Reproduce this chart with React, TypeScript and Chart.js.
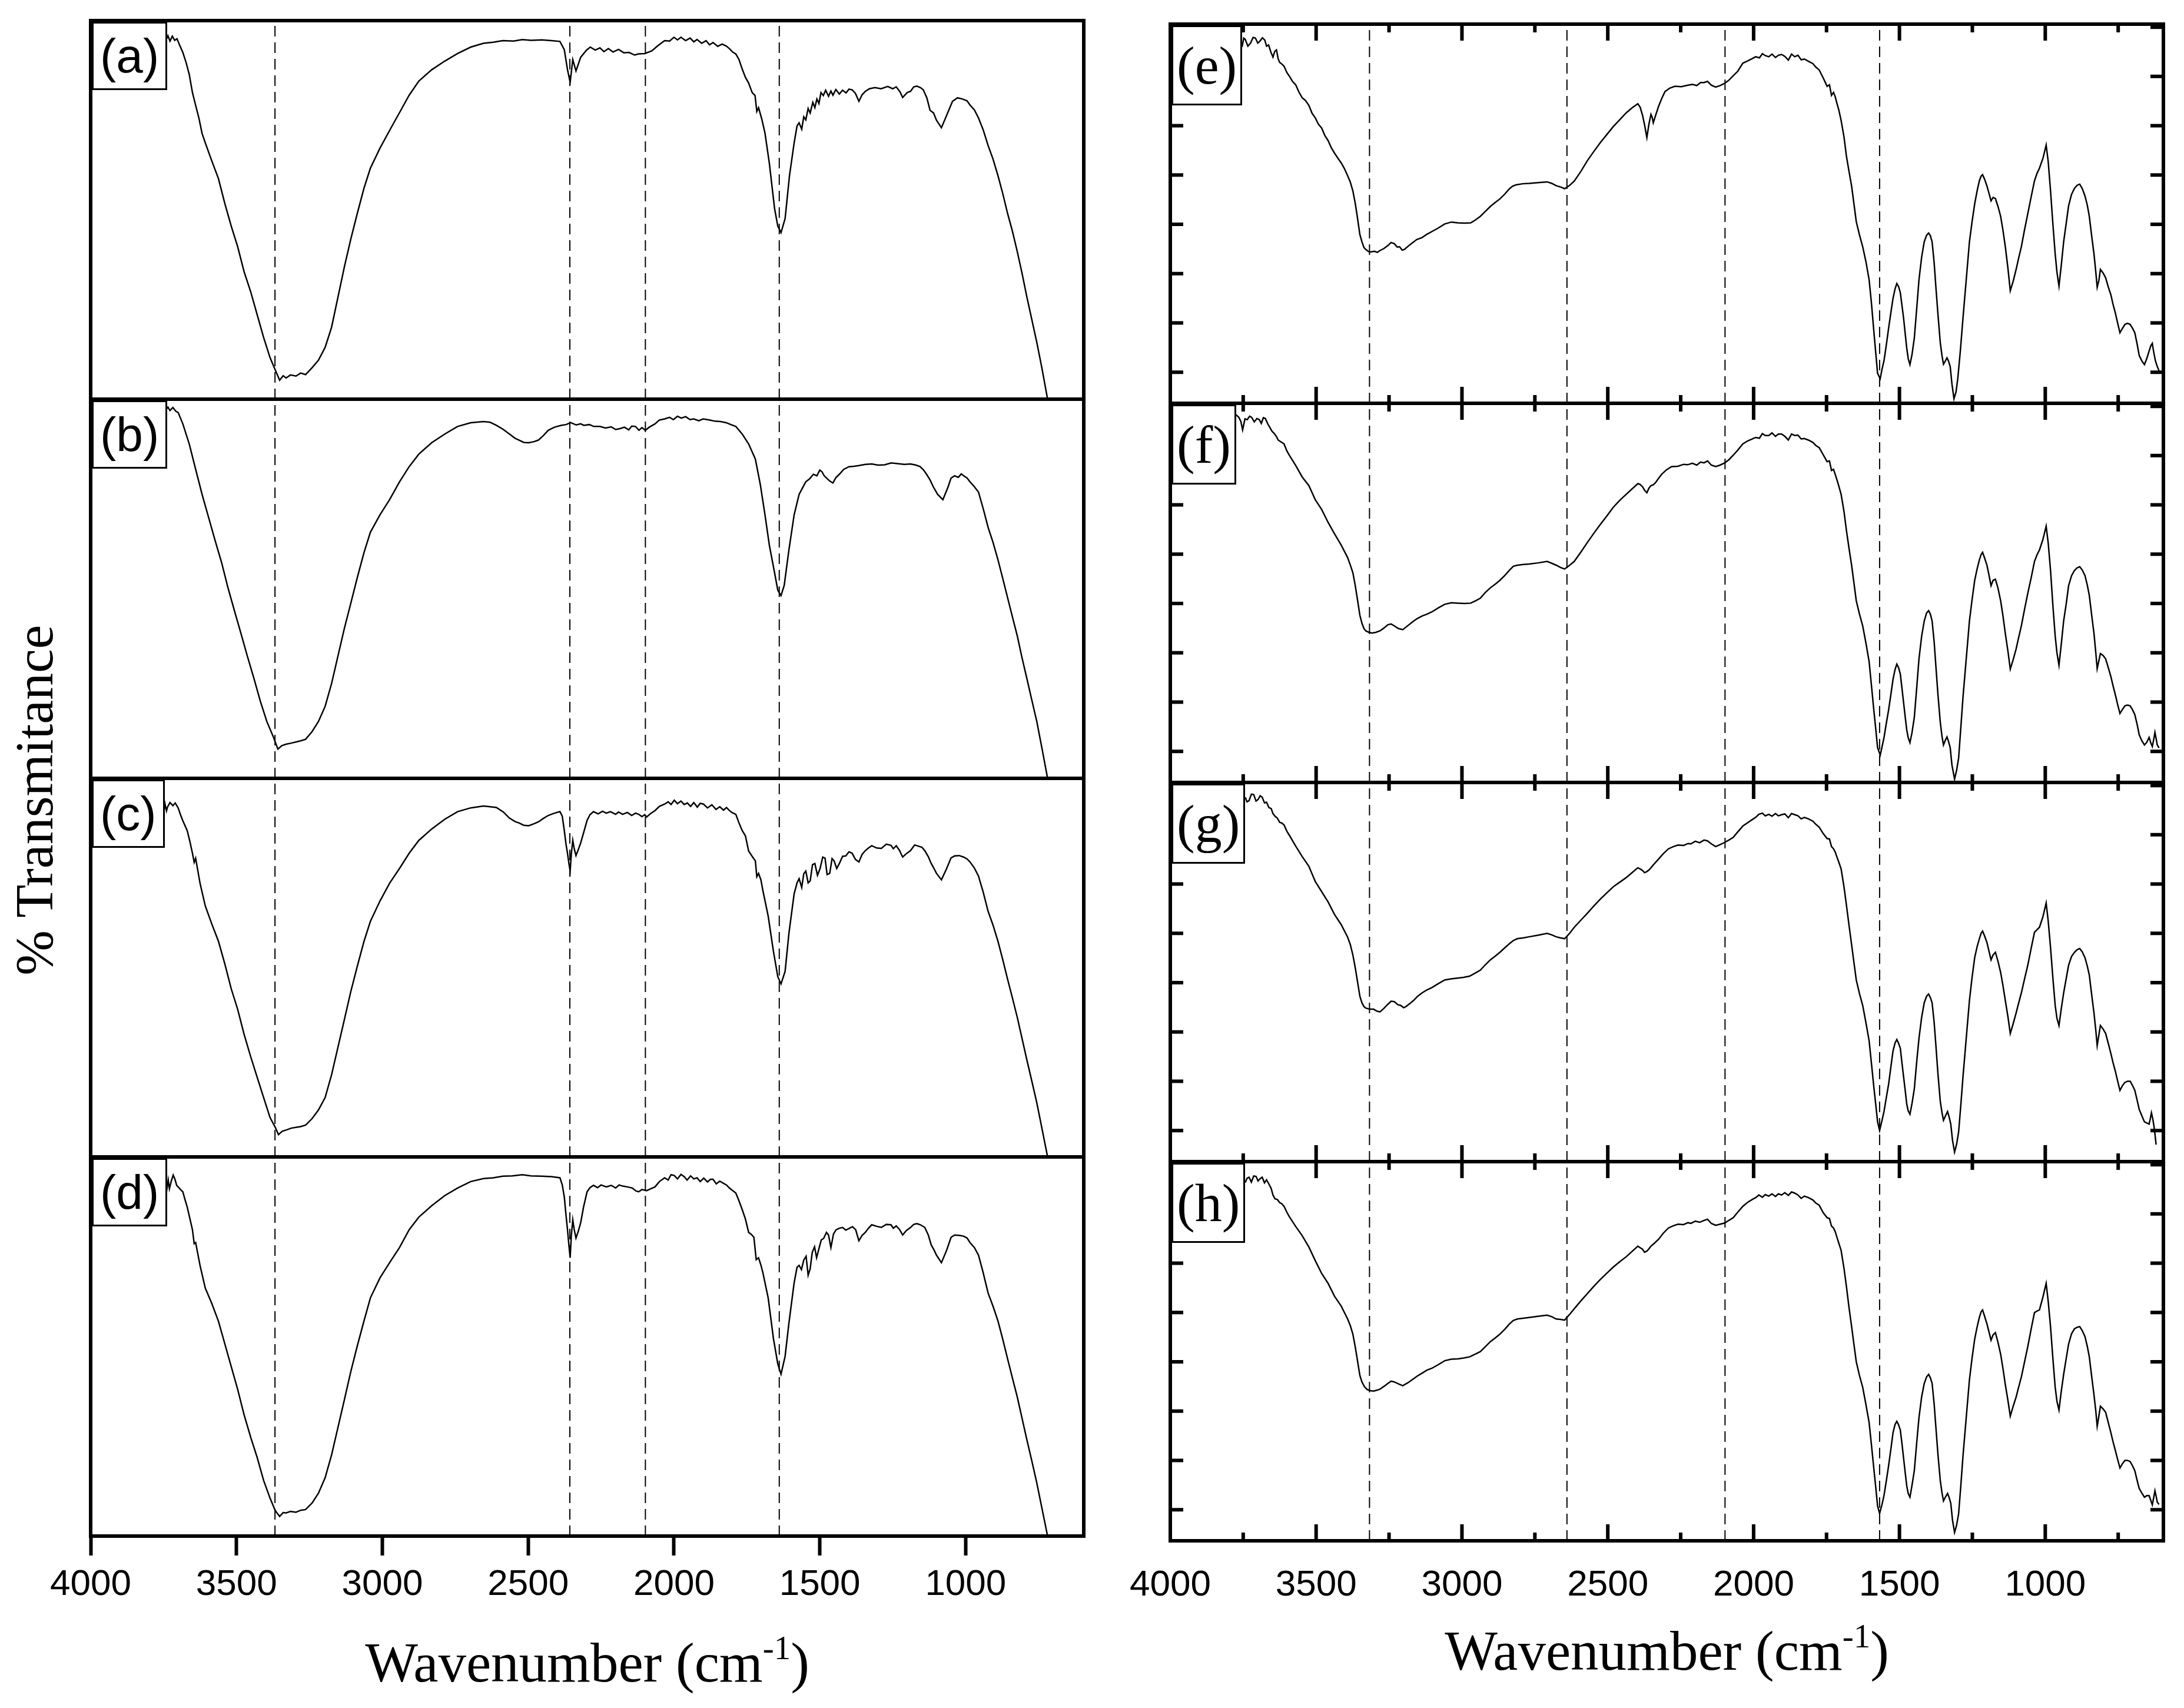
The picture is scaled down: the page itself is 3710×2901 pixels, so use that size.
import React, { useEffect, useRef } from "react";
import Chart from "chart.js/auto";

// wavenumber axis (cm-1), drawn high -> low
const waveMax = 4000;
const waveMin = 595;
const waveTicks = [4000, 3500, 3000, 2500, 2000, 1500, 1000];
const waveMinor = [3750, 3250, 2750, 2250, 1750, 1250, 750];
// inner y tick levels on the right-hand panels (% of panel height)
const levelTicks = [8.2, 21.2, 34.2, 47.2, 60.2, 73.2, 86.2, 99.2];

// dashed reference bands
const leftPeaks = [3368, 2357, 2098, 1639];
const rightPeaks = [3317, 2640, 2098, 1568];

const leftTags = ["(a)", "(b)", "(c)", "(d)"];
const rightTags = ["(e)", "(f)", "(g)", "(h)"];

// [wavenumber, transmittance]
const specA = [[3742,94.8],[3735,96],[3728,94.6],[3720,95.9],[3712,94.8],[3704,95.2],[3696,93.7],[3684,91.6],[3673,89],[3662,85.8],[3651,81],[3640,77.6],[3629,74.3],[3618,70.2],[3607,67.7],[3585,63],[3562,58.3],[3540,51.7],[3518,45.7],[3496,40.3],[3474,33.7],[3451,28.3],[3429,22.3],[3407,16.3],[3385,11],[3367,7.7],[3352,5],[3340,6.2],[3330,5.6],[3315,6.4],[3296,6.1],[3280,6.9],[3263,6.5],[3241,8.3],[3219,10.3],[3196,13.7],[3174,19],[3152,27],[3130,35],[3108,42.3],[3086,49],[3063,55.7],[3041,61],[3008,66.3],[2975,71],[2941,75.7],[2908,80.3],[2875,84],[2831,87],[2786,89.3],[2742,91.3],[2697,93],[2653,94],[2620,94.3],[2587,94.7],[2550,94.6],[2520,95],[2490,94.8],[2453,94.9],[2420,94.7],[2391,94.5],[2376,92.3],[2365,87],[2356,83.7],[2347,89.7],[2336,86.7],[2320,90.3],[2300,92.2],[2287,93],[2270,92.2],[2254,92.8],[2240,91.8],[2225,92.6],[2209,91.7],[2190,92.4],[2172,91.5],[2154,91.6],[2135,90.9],[2121,91.2],[2100,91.3],[2076,92],[2055,93.4],[2032,94.7],[2015,94.6],[2000,95.6],[1988,94.9],[1976,95.6],[1960,94.7],[1945,95.4],[1932,94.4],[1921,95],[1905,94],[1890,94.7],[1878,93.6],[1866,94.2],[1850,93.2],[1835,93.8],[1821,93.3],[1810,92.6],[1799,91.7],[1788,91.2],[1777,89.7],[1766,87.2],[1755,85],[1744,83.5],[1732,81],[1722,80.2],[1716,76],[1710,77],[1699,74],[1688,70.3],[1673,62.3],[1655,50.3],[1644,45.7],[1633,44],[1619,47.7],[1604,59],[1588,67.7],[1578,72.2],[1571,73],[1562,71.3],[1555,74.6],[1548,73.8],[1540,76.8],[1533,75.6],[1524,78.4],[1517,77],[1510,79.3],[1503,78.1],[1496,81],[1488,80.2],[1480,81.6],[1470,80],[1462,81.4],[1455,80.3],[1445,81.8],[1433,80.6],[1422,81.6],[1410,80.9],[1400,81.9],[1389,81.7],[1378,80.8],[1366,78.7],[1355,80.4],[1344,81.3],[1330,82],[1311,82.3],[1290,82],[1267,82.6],[1250,82],[1238,82.5],[1225,81.2],[1216,79.7],[1200,81],[1189,81.3],[1178,82.5],[1167,82.7],[1155,82.3],[1145,81.7],[1133,79.6],[1122,76.3],[1110,75.6],[1100,73.7],[1083,71.7],[1065,75],[1045,78.7],[1028,79.6],[1011,79.3],[995,78.8],[985,77.7],[970,76.4],[956,74.3],[940,71.2],[923,67],[906,63.4],[889,59],[873,54.4],[856,49],[840,44.5],[823,39],[807,33.4],[790,27],[773,21],[756,15],[738,8],[719,0],[700,-8]];

const specB = [[3742,97.2],[3735,97.9],[3728,97],[3718,97.8],[3708,96.8],[3700,96.5],[3684,93.5],[3662,88.2],[3640,81.5],[3618,74.9],[3596,68.9],[3574,62.9],[3551,56.9],[3529,50.2],[3507,44.2],[3485,38.3],[3463,32.3],[3440,26.3],[3418,20.3],[3396,15],[3374,11],[3358,7.7],[3345,8.6],[3330,9],[3312,9.3],[3296,9.6],[3280,9.9],[3263,10.3],[3241,12.3],[3219,15],[3196,19],[3174,25],[3152,32.3],[3130,39.6],[3108,46.2],[3086,52.9],[3063,59.5],[3041,64.9],[3008,69.5],[2975,73.5],[2941,78.2],[2908,82.2],[2875,85.5],[2831,88.5],[2786,90.8],[2742,92.8],[2697,93.8],[2653,94.1],[2630,93.9],[2609,93.1],[2585,92],[2564,90.8],[2545,89.7],[2531,89.2],[2515,88.6],[2498,88.5],[2480,88.8],[2465,89.2],[2448,90.4],[2431,91.8],[2410,92.6],[2387,93.1],[2370,93.3],[2354,93.8],[2335,93.2],[2320,93.5],[2309,93.1],[2290,93.3],[2275,92.8],[2254,92.8],[2235,92.4],[2215,92.7],[2200,92],[2187,92.2],[2170,92.6],[2155,91.9],[2145,92.9],[2132,92.8],[2120,91.8],[2110,92.5],[2098,91.8],[2085,92.6],[2065,93.5],[2050,94.5],[2032,94.8],[2015,95.2],[2002,94.6],[1988,95.5],[1975,95],[1960,95.4],[1945,94.6],[1932,94.8],[1915,94.3],[1900,94.8],[1877,94.5],[1860,94.2],[1840,94.1],[1821,93.8],[1805,93.3],[1788,92.8],[1766,90.8],[1744,88.2],[1721,84.2],[1704,77.5],[1688,69.5],[1673,61.5],[1655,54.2],[1644,49.6],[1633,48.2],[1622,50.9],[1606,60.2],[1588,69.5],[1571,74.9],[1560,76.5],[1548,78.2],[1535,79],[1522,80.2],[1510,79.8],[1500,81.3],[1493,80.9],[1485,79.8],[1477,79.2],[1466,78.4],[1455,77.9],[1445,79.3],[1433,80.2],[1418,81.5],[1400,82.2],[1383,82.3],[1366,82.5],[1344,82.8],[1322,82.9],[1300,82.6],[1278,82.7],[1255,83.2],[1233,83],[1210,82.8],[1189,82.9],[1170,82.6],[1156,82.2],[1145,81.4],[1134,80.2],[1122,78.7],[1111,76.9],[1096,74.9],[1078,73.5],[1060,76.9],[1050,79.2],[1038,79.8],[1025,79.4],[1015,80.3],[1007,79.8],[995,79.2],[985,78.2],[970,76.9],[956,75.5],[940,71.2],[923,66.2],[906,62.2],[889,57.6],[873,52.8],[856,47.6],[840,42.7],[823,37.6],[807,31.9],[790,26.3],[773,20.6],[756,15],[738,7.8],[719,0],[700,-8]];

const specC = [[3751,90.2],[3745,93.2],[3740,91.4],[3736,92.5],[3728,93.6],[3718,92.8],[3710,93.5],[3700,92.2],[3692,90.4],[3684,88.8],[3669,86.2],[3660,83.4],[3651,80.2],[3645,77.8],[3640,78.9],[3625,72.3],[3607,66.3],[3585,61.6],[3562,57],[3540,51],[3518,44.4],[3496,39],[3474,32.4],[3451,26.4],[3429,21],[3407,15.7],[3385,10.4],[3367,7.8],[3356,5.9],[3343,6.8],[3330,7.1],[3312,7.6],[3296,7.8],[3280,8],[3263,8.4],[3241,10.1],[3219,12.4],[3196,15.7],[3174,21.7],[3152,29],[3130,36.3],[3108,43.7],[3086,50.3],[3063,56.9],[3041,62.2],[3008,67.6],[2975,72.3],[2941,76.2],[2908,80.2],[2875,83.6],[2831,86.6],[2786,89.2],[2742,91.2],[2697,92.2],[2653,92.7],[2630,92.5],[2609,92.3],[2585,91.1],[2564,89.5],[2545,88.6],[2531,88.2],[2515,87.6],[2498,87.5],[2480,88],[2465,88.5],[2448,89.4],[2431,90.2],[2410,90.8],[2391,91.2],[2383,90],[2376,86.2],[2370,82.5],[2365,80.2],[2360,77.4],[2356,75.5],[2352,80],[2347,83.6],[2342,81.4],[2336,79.6],[2328,81.2],[2320,82.9],[2310,85.6],[2298,88.9],[2288,90.4],[2276,91.2],[2260,90.6],[2245,91.3],[2232,90.8],[2218,91.2],[2200,90.5],[2190,91.1],[2176,90.5],[2160,91],[2145,90.2],[2132,90.8],[2121,90.5],[2110,89.9],[2100,90.4],[2094,89.8],[2080,90.7],[2065,91.5],[2050,92.6],[2032,93.2],[2020,93.8],[2010,93.1],[1999,94.2],[1988,93.3],[1976,94],[1965,93.1],[1954,93.5],[1943,92.6],[1932,93.6],[1920,92.4],[1910,93.4],[1899,93.2],[1885,92.2],[1870,93],[1856,91.8],[1843,92.5],[1830,91.6],[1820,92.3],[1810,91.5],[1800,90.9],[1788,90.5],[1777,88.2],[1766,86.2],[1755,84.8],[1744,80.8],[1732,79.4],[1721,78.2],[1716,74],[1710,74.9],[1702,73.2],[1695,70.3],[1677,63.6],[1659,54.3],[1644,47.6],[1633,45.7],[1619,49],[1606,59],[1588,69.5],[1578,72.4],[1571,73.5],[1562,71.2],[1555,74.8],[1548,75.5],[1540,72.4],[1533,72.9],[1525,77.2],[1517,77.5],[1508,74.4],[1499,76.2],[1490,79.2],[1482,78.9],[1475,74.6],[1466,74.9],[1458,78.8],[1451,78.2],[1442,76.2],[1433,77.5],[1422,79.4],[1411,79.5],[1400,80.6],[1389,80.2],[1378,78.6],[1366,77.9],[1355,79.9],[1344,80.9],[1333,81.6],[1322,82.2],[1305,81.6],[1289,81.5],[1272,82.6],[1256,82.3],[1248,81.4],[1238,82.2],[1227,81],[1216,79.2],[1205,80],[1189,80.9],[1175,82.4],[1162,82.1],[1150,81.8],[1140,80.9],[1128,79.3],[1118,77.5],[1108,76.1],[1100,74.9],[1083,73.2],[1065,76.2],[1050,79],[1038,79.5],[1022,79.6],[1007,79.2],[995,78.7],[985,77.9],[970,76.3],[956,74.2],[940,70],[923,64.9],[906,61.2],[889,56.9],[873,52.2],[856,46.9],[840,42.1],[823,36.9],[807,31.4],[790,25.6],[773,20],[756,14.3],[738,7.4],[719,0],[700,-8]];

const specD = [[3740,90.8],[3734,93.9],[3730,91.6],[3724,93.5],[3717,95.2],[3711,94.1],[3705,92.5],[3700,92.1],[3692,91.4],[3684,90.8],[3676,88.6],[3669,86.8],[3660,83.8],[3651,80.8],[3645,77.1],[3640,77.4],[3625,71.4],[3607,65.4],[3585,61.4],[3562,56.7],[3540,50.7],[3518,44.7],[3496,38.7],[3474,32],[3451,26],[3429,20.7],[3407,14.7],[3385,10],[3367,6.7],[3352,5.2],[3340,6.2],[3330,6.1],[3315,6.5],[3296,6.3],[3280,6.8],[3263,7],[3241,8.7],[3219,11.3],[3196,15.4],[3174,21.4],[3152,28.7],[3130,36],[3108,43.4],[3086,50.1],[3063,56.7],[3041,62.8],[3008,68.1],[2975,72.1],[2941,76.1],[2908,80.8],[2875,84.1],[2831,87.1],[2786,89.8],[2742,91.8],[2697,93.5],[2653,94.3],[2620,94.5],[2587,94.9],[2555,95],[2520,95.3],[2490,95],[2453,94.9],[2420,94.8],[2391,94.5],[2383,92.6],[2376,89.4],[2370,84.5],[2365,80.8],[2360,76.5],[2356,73.4],[2352,79.2],[2347,83.4],[2342,80.8],[2336,78.6],[2328,80.4],[2320,82.6],[2310,86.8],[2298,90.8],[2288,91.9],[2276,92.5],[2262,91.9],[2250,92.6],[2232,92.1],[2215,92.5],[2200,91.8],[2188,92.6],[2176,92.3],[2160,92.1],[2143,91.8],[2130,91],[2121,90.8],[2110,91.4],[2094,91.1],[2080,91.6],[2065,92.1],[2050,93.5],[2032,94.5],[2020,93.9],[2010,95.3],[1999,95.1],[1988,94.2],[1976,95.4],[1965,94.8],[1955,93.9],[1943,95],[1932,94.2],[1921,94.5],[1910,93.5],[1898,94.4],[1885,93.4],[1875,94.1],[1866,94.1],[1855,92.9],[1843,93.6],[1832,93.1],[1820,92.6],[1810,91.8],[1800,91.2],[1788,90.5],[1777,88.4],[1766,86.1],[1755,83.6],[1744,80.1],[1735,79.6],[1726,78.8],[1718,72.9],[1710,73.4],[1702,71.5],[1695,69.4],[1677,62.8],[1659,52.1],[1644,45.4],[1633,42.7],[1619,47.4],[1606,56.1],[1588,66.8],[1578,70.9],[1571,71.4],[1563,70.3],[1555,72.8],[1547,73.8],[1540,68.8],[1533,70.5],[1526,74.8],[1518,76.3],[1511,73.4],[1503,75.8],[1495,78.1],[1487,78.5],[1477,80.1],[1470,79.4],[1462,76.1],[1453,79.7],[1444,80.8],[1433,81.2],[1422,81.4],[1411,80.7],[1400,81.1],[1388,81.6],[1377,80.8],[1366,77.9],[1355,79.3],[1344,80.1],[1333,81.2],[1322,82.1],[1305,81.7],[1289,81.4],[1272,82.2],[1256,82.1],[1248,81.2],[1238,81.8],[1227,80.9],[1216,79.4],[1203,80.6],[1189,81.4],[1178,82.2],[1167,82.4],[1155,82.1],[1140,81.4],[1128,79.4],[1118,76.8],[1108,75.4],[1100,74.1],[1083,72.1],[1065,75.4],[1050,78.8],[1038,79.4],[1022,79.3],[1007,79.1],[995,78.6],[985,77.4],[970,76.1],[956,74.1],[940,69.5],[923,64.1],[906,60.6],[889,56.7],[873,52],[856,46.7],[840,41.8],[823,36.7],[807,31.2],[790,25.4],[773,19.8],[756,14],[738,7.2],[719,0],[700,-8]];

const specE = [[3754,94],[3748,96.3],[3743,96],[3734,94.2],[3725,95],[3716,96.5],[3708,96.3],[3700,95],[3692,95.6],[3684,96.4],[3676,95.8],[3670,94.2],[3663,94.5],[3655,92.6],[3648,91.3],[3642,92.8],[3636,93.2],[3630,90.8],[3625,89.9],[3618,89.5],[3610,88.9],[3600,87.2],[3592,86.3],[3581,84.9],[3570,84],[3559,82.1],[3548,80.6],[3537,79.9],[3525,78.6],[3514,76.5],[3503,75.3],[3492,73.6],[3481,72.6],[3470,70.6],[3459,69.3],[3448,67.4],[3437,66],[3425,64.6],[3414,63.4],[3403,61.9],[3392,60],[3383,58.4],[3374,56],[3366,52.8],[3359,49.3],[3350,44.5],[3343,42.6],[3336,41.1],[3330,40.6],[3320,40],[3314,39.9],[3300,40.1],[3290,39.8],[3281,40.3],[3268,40.8],[3254,41.6],[3243,42.4],[3232,42.1],[3222,41.2],[3214,41.3],[3205,40.4],[3197,40.6],[3185,41.4],[3170,42.3],[3155,43.2],[3137,43.7],[3120,44.6],[3103,45.3],[3082,46.2],[3059,47.3],[3036,47.8],[3014,47.6],[2992,47.5],[2970,47.6],[2955,48.3],[2937,49.3],[2920,50.6],[2903,51.9],[2887,52.9],[2870,53.9],[2853,55.2],[2837,56.6],[2826,57.3],[2815,57.6],[2792,57.9],[2770,58],[2740,58.2],[2708,58.4],[2692,58],[2677,57.4],[2660,57],[2648,56.6],[2632,57.4],[2615,58.6],[2592,61.2],[2570,64],[2548,66.4],[2526,68.7],[2503,70.9],[2481,73],[2459,74.8],[2437,76.6],[2417,77.9],[2397,79],[2389,78.1],[2381,76],[2374,73.5],[2366,70.1],[2359,73.6],[2352,76.2],[2348,75.5],[2344,74],[2335,76.2],[2326,78.3],[2315,80.4],[2304,82.2],[2288,83.1],[2270,83.6],[2248,83.5],[2226,83.9],[2210,84.1],[2195,83.8],[2182,84.6],[2170,84.6],[2158,84.9],[2145,83.9],[2130,83.4],[2115,83.8],[2099,84.4],[2085,85.2],[2070,86.4],[2055,87.5],[2037,89.7],[2020,90.3],[2005,90.9],[1993,91.4],[1980,91.1],[1970,92.2],[1960,91.7],[1948,91.4],[1937,92.1],[1925,91.2],[1915,91.8],[1904,92],[1893,91.5],[1881,90.5],[1870,92.1],[1859,91.4],[1848,91.8],[1837,90.6],[1826,90.8],[1812,90.2],[1797,89.6],[1787,88.7],[1775,87.9],[1762,85.9],[1748,83.6],[1740,84],[1733,81.2],[1726,82],[1720,80.8],[1715,79.3],[1708,77.4],[1700,74.6],[1690,70.2],[1682,65.3],[1673,61.2],[1664,57.3],[1656,52.6],[1648,47.9],[1637,44.4],[1626,41.3],[1615,37.4],[1604,32.6],[1596,26.4],[1588,19.2],[1581,13.1],[1575,7.9],[1566,6.5],[1560,8.9],[1553,11.2],[1545,15.4],[1537,19.9],[1529,24.1],[1522,27.7],[1515,30.2],[1509,31.6],[1503,30.8],[1497,29.2],[1491,25.6],[1486,22.6],[1480,18.2],[1475,14.6],[1470,11.8],[1464,10.2],[1457,12.8],[1449,17.2],[1441,24.8],[1433,32.6],[1424,38.5],[1415,42.6],[1407,44.3],[1400,44.9],[1394,44.2],[1388,42.6],[1381,37.1],[1375,30.6],[1368,23.5],[1360,16],[1354,12.5],[1349,10.3],[1343,11.1],[1337,12],[1332,11.2],[1326,9.7],[1320,5.1],[1313,1.2],[1306,3],[1300,6.5],[1291,14],[1282,22.6],[1271,32.6],[1260,42.6],[1251,47.9],[1242,52.6],[1234,55.9],[1226,58.7],[1220,59.9],[1215,60.3],[1208,59.1],[1200,57.3],[1193,55.4],[1186,53.4],[1179,54.3],[1171,54],[1162,51.9],[1153,49.3],[1145,45.6],[1137,41.3],[1128,35.6],[1120,29.7],[1110,32.2],[1100,35.3],[1091,38.4],[1082,41.3],[1071,45.8],[1060,50],[1048,54.6],[1037,58.7],[1028,60.7],[1020,62],[1008,64.6],[997,68.1],[990,63.8],[982,56.1],[974,47.4],[966,39.4],[960,34.6],[953,30.9],[945,36.5],[937,42.6],[928,47.6],[920,52.1],[910,55.1],[900,56.7],[891,57.5],[882,57.8],[873,56.6],[864,54.7],[856,52.3],[849,49.3],[841,44.2],[833,39.4],[827,34.8],[822,30.6],[816,32.5],[811,35.3],[802,34.4],[793,33.1],[784,30.7],[775,28.6],[768,26.2],[760,23.9],[752,21.2],[744,18.6],[735,19.8],[727,20.8],[718,21.1],[709,20.8],[701,19.8],[693,18.6],[685,15.6],[678,12.6],[669,11.2],[660,10.2],[652,11.8],[644,13.8],[638,15.2],[633,15.8],[630,14.3],[627,13],[622,11.1],[616,9.7],[610,8.6]];

const specF = [[3781,97.3],[3772,96.8],[3765,96.3],[3758,95.2],[3752,93],[3744,95.9],[3736,95.7],[3728,96.6],[3721,96.3],[3712,95.1],[3703,96],[3695,95.7],[3688,94.7],[3681,96.2],[3674,96],[3666,94.6],[3659,93.7],[3651,92.6],[3643,92],[3636,91.2],[3630,90.3],[3620,89.8],[3610,89.3],[3600,87.4],[3592,86.3],[3570,83.6],[3548,80.6],[3525,78.3],[3503,74.6],[3481,72],[3459,68.6],[3437,65.6],[3414,62.6],[3392,59.3],[3383,57.4],[3374,55.3],[3366,52],[3359,48.6],[3350,44.1],[3343,42],[3336,40.6],[3330,40],[3319,39.6],[3308,39.4],[3295,39.6],[3281,40],[3268,40.7],[3254,41.6],[3243,41.8],[3232,41.3],[3218,40.6],[3203,40.3],[3185,41.4],[3170,42.3],[3154,43.2],[3137,43.9],[3120,44.4],[3103,45],[3080,46.1],[3059,47],[3036,47.4],[3014,47.3],[2990,47.2],[2970,47.3],[2954,47.9],[2937,48.6],[2920,50.1],[2903,51.3],[2886,52.3],[2870,53.3],[2853,54.6],[2837,56],[2824,57],[2810,57.3],[2790,57.5],[2770,57.6],[2740,57.9],[2708,58.3],[2692,57.8],[2677,57.3],[2662,56.7],[2648,56.3],[2632,57.2],[2615,58.3],[2592,60.8],[2570,63.3],[2548,65.7],[2526,68],[2503,70.3],[2481,72.6],[2459,74.4],[2437,76],[2417,77.4],[2397,78.8],[2389,78.6],[2381,78],[2374,77.1],[2366,76.4],[2359,77.6],[2352,78.3],[2344,78.5],[2337,79],[2326,80.2],[2315,81.3],[2298,82.5],[2281,83.3],[2260,83.4],[2240,83.9],[2226,83.8],[2210,84.2],[2195,83.7],[2182,84.5],[2170,84.3],[2158,84.8],[2145,83.7],[2130,83.3],[2115,83.7],[2099,84.3],[2085,85.1],[2070,86.3],[2055,87.6],[2037,89.3],[2020,90.1],[2005,90.6],[1993,91],[1980,90.8],[1970,92],[1960,91.5],[1948,91.5],[1937,92.2],[1925,91.3],[1915,91.9],[1904,91.9],[1893,91.3],[1881,90.3],[1870,91.9],[1859,91.5],[1848,91.6],[1837,90.6],[1826,90.7],[1812,90.3],[1797,89.7],[1787,88.9],[1775,88.3],[1762,86.5],[1748,84.6],[1740,84.8],[1733,82.3],[1726,82.6],[1720,81.2],[1715,80],[1708,78.2],[1700,76],[1690,71.4],[1682,66.6],[1673,61.8],[1664,57.3],[1656,52.6],[1648,47.9],[1637,44.4],[1626,41.3],[1615,36.8],[1604,31.9],[1596,25.6],[1588,19.2],[1581,13.9],[1575,9.2],[1566,7.2],[1560,9.3],[1553,11.8],[1545,15.6],[1537,19.2],[1529,23.4],[1522,27.2],[1515,29.8],[1509,31.2],[1503,30.3],[1497,28.6],[1491,24.6],[1486,21.2],[1480,17.1],[1475,13.9],[1470,11.8],[1464,10.5],[1457,13.1],[1449,17.2],[1441,24.8],[1433,32.6],[1424,38.5],[1415,42.6],[1407,44.7],[1400,45.3],[1394,44.4],[1388,42.6],[1381,37.1],[1375,30.6],[1368,23.2],[1360,15.9],[1354,12.1],[1349,9.9],[1343,11.1],[1337,12],[1332,10.9],[1326,9.2],[1320,4.6],[1311,0.9],[1304,3.2],[1297,6.5],[1290,14],[1282,22.6],[1271,32.6],[1260,42.6],[1251,48.2],[1242,53.3],[1234,56.2],[1226,58.7],[1220,60.1],[1215,60.7],[1208,59.2],[1200,57.3],[1193,54.7],[1186,51.9],[1179,53.3],[1171,53.6],[1162,51.2],[1153,47.9],[1145,43.9],[1137,39.3],[1128,34.6],[1120,29.9],[1110,32.4],[1100,35.2],[1091,38.3],[1082,41.3],[1071,45.7],[1060,49.9],[1048,54.1],[1037,58.3],[1028,60.1],[1020,61.3],[1008,64.1],[997,67.6],[990,63.2],[982,56],[974,46.8],[966,38.6],[960,34.2],[953,30.9],[945,36.6],[937,42.6],[928,47.2],[920,51.9],[910,54.5],[900,55.9],[891,56.6],[882,56.9],[873,56],[864,54.6],[856,52.1],[849,49.3],[841,44.2],[833,39.3],[827,34.4],[822,30],[816,32.2],[811,34],[802,33.5],[793,32.6],[784,30.3],[775,27.9],[768,25.6],[760,23.2],[752,20.6],[744,18.2],[735,19.3],[727,20.2],[718,20.4],[709,20.2],[701,19.2],[693,17.9],[685,15.3],[678,12.6],[669,11],[660,9.9],[652,10.6],[644,11.9],[638,10.4],[633,9.5],[628,11.4],[624,13.2],[620,11.6],[616,9.9],[610,9.1]];

const specG = [[3743,96.1],[3737,94.9],[3730,95.2],[3722,96.9],[3714,96.8],[3706,95.1],[3699,95.5],[3692,96.5],[3685,96.1],[3677,94.6],[3670,94.8],[3662,93.4],[3654,93.1],[3648,91.8],[3641,91.1],[3633,90.6],[3625,89.5],[3618,89.3],[3610,88.8],[3600,87.1],[3592,86.1],[3570,83.2],[3548,80.5],[3525,77.9],[3503,73.9],[3481,71.2],[3459,68.5],[3437,65.2],[3414,62.5],[3392,59.2],[3383,57.3],[3374,54.5],[3366,51.2],[3359,47.9],[3350,43.6],[3343,41.9],[3336,40.9],[3330,40.5],[3316,40.2],[3303,40.2],[3292,39.7],[3281,39.5],[3268,40.4],[3254,41.5],[3243,42.3],[3232,42.2],[3220,41.4],[3210,41.2],[3200,40.6],[3192,40.9],[3180,41.6],[3166,42.5],[3152,43.6],[3137,44.5],[3120,45.3],[3103,45.9],[3080,47],[3059,47.9],[3036,48.2],[3014,48.4],[2994,48.6],[2974,48.9],[2955,49.7],[2937,50.5],[2920,51.9],[2903,53.2],[2886,54.2],[2870,55.2],[2853,56.4],[2837,57.5],[2824,58.3],[2810,58.8],[2790,59],[2770,59.3],[2740,59.7],[2708,60.2],[2692,59.8],[2677,59.3],[2662,59],[2648,58.8],[2632,60.1],[2615,61.8],[2592,63.7],[2570,65.5],[2548,67.4],[2526,69.2],[2503,70.9],[2481,72.5],[2459,73.7],[2437,74.9],[2417,76.2],[2397,77.5],[2389,77.2],[2381,76.8],[2374,76.2],[2366,76.5],[2359,76.9],[2352,77.5],[2340,78.6],[2326,79.8],[2310,81.2],[2292,82.5],[2275,83.1],[2259,83.5],[2240,83.4],[2225,83.9],[2215,83.8],[2200,84.5],[2185,84.1],[2170,84.8],[2158,84.6],[2145,83.8],[2130,83.1],[2115,83.6],[2099,84.2],[2085,84.8],[2070,85.5],[2055,86.9],[2037,88.5],[2020,89.4],[2005,90.2],[1993,90.8],[1982,91.6],[1970,91.9],[1960,91.2],[1948,91.6],[1937,91.1],[1925,91.8],[1915,91.2],[1904,91.5],[1893,91.7],[1881,90.7],[1870,91.8],[1859,91.5],[1848,91.2],[1837,90.4],[1826,90.8],[1812,90.4],[1797,89.8],[1787,89],[1775,88.2],[1762,86.6],[1748,85.2],[1740,85.1],[1733,83.1],[1726,82.5],[1720,81.6],[1715,80.5],[1708,79],[1700,77.2],[1690,72.4],[1682,67.8],[1673,62.4],[1664,57.2],[1656,52.5],[1648,47.9],[1637,44.3],[1626,41.2],[1615,36.7],[1604,31.9],[1596,25.9],[1588,19.8],[1581,14.9],[1575,10.5],[1568,8.2],[1560,10.8],[1553,13.2],[1545,16.9],[1537,20.5],[1529,25.2],[1522,29.2],[1515,31.3],[1509,32.2],[1503,31.2],[1497,29.9],[1491,25.8],[1486,22.5],[1480,18.6],[1475,15.2],[1470,13.4],[1464,12.5],[1457,15.3],[1449,19.2],[1441,26.2],[1433,32.5],[1424,38],[1415,41.9],[1407,43.6],[1400,44.2],[1394,43.3],[1388,41.9],[1381,36.7],[1375,30.6],[1368,23.2],[1360,15.9],[1354,12.9],[1349,10.9],[1342,12.1],[1335,13.2],[1330,11.9],[1324,9.9],[1318,5.6],[1311,2.5],[1304,4.6],[1297,7.9],[1290,14.5],[1282,22.5],[1271,32.5],[1260,42.5],[1251,48.6],[1242,53.8],[1234,56.6],[1226,58.8],[1220,60.2],[1215,60.8],[1208,59.5],[1200,57.8],[1193,55.5],[1186,53.2],[1179,54.5],[1171,55.2],[1162,52.8],[1153,49.9],[1145,46.4],[1137,42.5],[1128,38.2],[1120,33.8],[1110,36.4],[1100,39.2],[1091,41.9],[1082,44.5],[1071,48.2],[1060,51.8],[1048,56.4],[1037,60.5],[1028,61.2],[1020,61.8],[1008,64.6],[997,68.2],[990,63.5],[982,56.5],[974,48.5],[966,41.2],[960,37.8],[953,35.9],[945,40.4],[937,44.5],[928,48.4],[920,51.8],[910,54.1],[900,55.2],[891,55.9],[882,56.2],[873,55.3],[864,53.8],[856,51.6],[849,49.2],[841,44.1],[833,39.2],[827,34.8],[822,30.6],[816,33.5],[811,35.9],[802,35],[793,33.8],[784,31.2],[775,28.5],[768,26.2],[760,23.9],[752,21.3],[744,18.8],[735,20.1],[727,20.9],[718,21.2],[709,21.2],[701,20.1],[693,18.8],[685,16.2],[678,13.8],[669,12.1],[660,10.5],[652,10.2],[644,9.9],[640,11.3],[636,12.9],[631,11.1],[627,9.2],[623,6.6],[620,4.5]];

const specH = [[3743,94.5],[3737,95.6],[3730,95.9],[3722,94.6],[3714,96.2],[3706,96.1],[3699,94.9],[3692,95.5],[3685,95.9],[3677,94.4],[3670,95.2],[3662,94.1],[3654,92.9],[3648,91.2],[3641,90.2],[3633,90],[3625,89.2],[3618,88.9],[3610,88.2],[3600,86.6],[3592,85.5],[3570,82.9],[3548,80.5],[3525,77.5],[3503,73.9],[3481,70.5],[3459,67.9],[3437,64.5],[3414,61.9],[3392,58.5],[3383,56.8],[3374,54.5],[3366,51.2],[3359,47.9],[3350,43.6],[3343,41.9],[3334,40.6],[3325,39.9],[3314,39.6],[3303,39.5],[3292,39.7],[3281,40],[3268,40.7],[3254,41.5],[3243,42.1],[3232,41.9],[3218,41.4],[3203,40.9],[3185,41.7],[3170,42.5],[3154,43.4],[3137,44.2],[3120,45],[3103,45.5],[3080,46.5],[3059,47.5],[3036,47.9],[3014,48],[2994,48.2],[2974,48.5],[2955,49.2],[2937,49.9],[2920,51.2],[2903,52.5],[2886,53.5],[2870,54.5],[2853,55.8],[2837,57.2],[2824,58.1],[2810,58.5],[2790,58.7],[2770,58.9],[2740,59.2],[2708,59.5],[2692,59.1],[2677,58.5],[2662,58.4],[2648,58.2],[2632,59.6],[2615,61.2],[2592,63.3],[2570,65.2],[2548,67.1],[2526,68.9],[2503,70.6],[2481,72.2],[2459,73.6],[2437,74.9],[2417,76.3],[2397,77.7],[2389,77.3],[2381,76.9],[2374,76.1],[2366,76.4],[2359,77],[2352,77.7],[2340,78.5],[2326,79.5],[2310,81.1],[2292,82.5],[2275,83.1],[2259,83.5],[2240,83.4],[2225,83.9],[2215,83.7],[2200,84.3],[2185,84],[2170,84.5],[2158,84.8],[2145,83.7],[2130,83.2],[2115,83.5],[2099,83.8],[2085,84.5],[2070,85.2],[2055,86.6],[2037,88.2],[2020,89.3],[2005,90],[1993,90.5],[1982,91.2],[1970,90.6],[1960,91.3],[1948,90.9],[1937,91.5],[1925,90.8],[1915,91.5],[1904,91.2],[1893,91.8],[1881,91.1],[1870,92],[1859,91.7],[1848,91.2],[1837,90.3],[1826,90.9],[1812,90.5],[1797,89.9],[1787,89.1],[1775,88.5],[1762,86.6],[1748,85.2],[1740,85],[1733,83],[1726,82.5],[1720,81.5],[1715,80.2],[1708,78.5],[1700,76.6],[1690,71.8],[1682,67.2],[1673,61.6],[1664,56.5],[1656,51.8],[1648,47.2],[1637,43.6],[1626,40.5],[1615,36],[1604,31.2],[1596,25.3],[1588,19.2],[1581,13.9],[1575,9.2],[1568,7.2],[1560,9.5],[1553,11.9],[1545,15.8],[1537,19.9],[1529,24.4],[1522,28.5],[1515,30.7],[1509,31.5],[1503,30.6],[1497,29.2],[1491,25.4],[1486,21.9],[1480,17.8],[1475,14.5],[1470,12.5],[1464,11.5],[1457,14.6],[1449,18.5],[1441,25.7],[1433,32.5],[1424,37.9],[1415,41.5],[1407,43.2],[1400,43.9],[1394,43],[1388,41.5],[1381,36.1],[1375,29.9],[1368,22.8],[1360,15.9],[1354,12.6],[1349,10.5],[1342,11.6],[1335,12.5],[1330,11.5],[1324,9.9],[1318,5.4],[1311,2.2],[1304,4.1],[1297,7.2],[1290,14.1],[1282,22.5],[1271,32.5],[1260,42.5],[1251,48.2],[1242,53.2],[1234,56.3],[1226,58.9],[1220,60.4],[1215,60.9],[1208,59.2],[1200,57.2],[1193,55.1],[1186,52.9],[1179,54.3],[1171,54.9],[1162,52.3],[1153,49.2],[1145,45.4],[1137,41.2],[1128,37],[1120,32.9],[1110,35.5],[1100,37.9],[1091,40.6],[1082,43.2],[1071,47.2],[1060,51.2],[1048,56],[1037,60.2],[1028,60.6],[1020,60.9],[1008,64.3],[997,67.9],[990,63.2],[982,56.5],[974,48.2],[966,40.5],[960,36.8],[953,34.5],[945,39.5],[937,43.9],[928,48.2],[920,51.9],[910,54.6],[900,55.9],[891,56.3],[882,56.5],[873,55.4],[864,53.9],[856,51.3],[849,48.5],[841,43.4],[833,38.5],[827,34.4],[822,30.2],[816,33],[811,35.5],[802,34.8],[793,33.9],[784,31.2],[775,28.5],[768,26.2],[760,23.9],[752,21.5],[744,19.2],[735,20.4],[727,21.2],[718,21.2],[709,20.9],[701,19.8],[693,18.5],[685,15.9],[678,13.8],[669,12.6],[660,11.5],[652,11.9],[644,11.9],[638,10.6],[633,9.5],[628,11.5],[624,13.2],[620,11.8],[616,10.2],[610,9.6]];

const leftSpecs = [specA, specB, specC, specD];
const rightSpecs = [specE, specF, specG, specH];

const SANS = "'Liberation Sans', Arial, sans-serif";
const SERIF = "'Liberation Serif', 'Times New Roman', serif";

const PAD_L = 100;
const PAD_R = 40;
const PAD_V = 30;
const AXIS_H = 120;

// frame around each panel, plus inward ticks for the right column
const framePlugin = {
  id: "frame",
  afterDatasetsDraw(chart: any, _args: any, opts: any) {
    const { ctx, chartArea: a } = chart;
    const xs = chart.scales.x;
    const ys = chart.scales.y;
    ctx.save();
    ctx.strokeStyle = "#000";
    ctx.lineWidth = 6;
    if (opts.inner) {
      ctx.beginPath();
      waveTicks.forEach((v) => {
        const px = xs.getPixelForValue(v);
        ctx.moveTo(px, a.top);
        ctx.lineTo(px, a.top + 28);
        ctx.moveTo(px, a.bottom);
        ctx.lineTo(px, a.bottom - 28);
      });
      waveMinor.forEach((v) => {
        const px = xs.getPixelForValue(v);
        ctx.moveTo(px, a.top);
        ctx.lineTo(px, a.top + 14);
        ctx.moveTo(px, a.bottom);
        ctx.lineTo(px, a.bottom - 14);
      });
      levelTicks.forEach((v) => {
        const py = ys.getPixelForValue(v);
        ctx.moveTo(a.left, py);
        ctx.lineTo(a.left + 22, py);
        ctx.moveTo(a.right, py);
        ctx.lineTo(a.right - 22, py);
      });
      ctx.stroke();
    }
    ctx.strokeRect(a.left, a.top, a.right - a.left, a.bottom - a.top);
    ctx.restore();
  },
};

interface PanelProps {
  tag: string;
  spec: number[][];
  peaks: number[];
  right: boolean;
  bottom: boolean;
  left: number;
  top: number;
  width: number;
  height: number;
}

const Panel: React.FC<PanelProps> = ({ tag, spec, peaks, right, bottom, left, top, width, height }) => {
  const chartRef = useRef<HTMLCanvasElement>(null);
  const cw = width + PAD_L + PAD_R;
  const ch = height + 2 * PAD_V + (bottom ? AXIS_H : 0);

  useEffect(() => {
    if (!chartRef.current) return;
    const chart = new Chart(chartRef.current, {
      type: "line",
      data: {
        datasets: [
          ...peaks.map((p) => ({
            data: [{ x: p, y: 0 }, { x: p, y: 100 }],
            borderColor: "#000",
            borderWidth: 2,
            borderDash: [18, 10],
            pointRadius: 0,
          })),
          {
            data: spec.map(([x, y]) => ({ x, y })),
            borderColor: "#000",
            borderWidth: 2.5,
            pointRadius: 0,
            tension: 0,
          },
        ],
      },
      options: {
        animation: false,
        responsive: false,
        devicePixelRatio: 1,
        events: [],
        layout: { padding: { left: PAD_L, right: PAD_R, top: PAD_V, bottom: PAD_V } },
        plugins: {
          legend: { display: false },
          tooltip: { enabled: false },
          frame: { inner: right },
        } as any,
        scales: {
          x: {
            type: "linear",
            reverse: true,
            min: waveMin,
            max: waveMax,
            display: bottom,
            afterBuildTicks: (s: any) => {
              s.ticks = waveTicks.map((v) => ({ value: v }));
            },
            afterFit: bottom
              ? (s: any) => {
                  s.height = AXIS_H;
                }
              : undefined,
            grid: right
              ? { display: false }
              : { display: true, drawOnChartArea: false, drawTicks: true, tickLength: 33, tickWidth: 6, color: "#000" },
            border: { display: false },
            ticks: {
              color: "#000",
              font: { family: SANS, size: 62 },
              padding: right ? 31 : 13,
              maxRotation: 0,
              autoSkip: false,
              callback: (v: any) => String(v),
            },
          },
          y: { display: false, min: 0, max: 100 },
        },
      },
      plugins: [framePlugin],
    });
    return () => chart.destroy();
  }, []);

  return (
    <>
      <canvas
        ref={chartRef}
        width={cw}
        height={ch}
        style={{ position: "absolute", left: left - PAD_L, top: top - PAD_V, width: cw, height: ch }}
      />
      <div
        style={{
          position: "absolute",
          left: left + 2,
          top: top + 2,
          border: "3px solid #000",
          background: "#fff",
          fontFamily: right ? SERIF : SANS,
          fontSize: right ? 92 : 82,
          lineHeight: 1,
          padding: right ? "19px 6px" : "14px 11px",
          whiteSpace: "nowrap",
        }}
      >
        {tag}
      </div>
    </>
  );
};

const leftTops = [35, 678, 1322, 1965, 2609];
const rightTops = [41, 685, 1329, 1973, 2617];

export default function App() {
  const titleStyle: React.CSSProperties = {
    position: "absolute",
    fontFamily: SERIF,
    fontSize: 95,
    lineHeight: 1,
    textAlign: "center",
    whiteSpace: "nowrap",
    color: "#000",
  };
  const sup: React.CSSProperties = { fontSize: "0.6em", position: "relative", top: "-0.67em" };

  return (
    <div style={{ position: "absolute", left: 0, top: 0, width: 3710, height: 2901, overflow: "hidden", background: "#fff" }}>
      {leftSpecs.map((s, i) => (
        <Panel
          key={leftTags[i]}
          tag={leftTags[i]}
          spec={s}
          peaks={leftPeaks}
          right={false}
          bottom={i === 3}
          left={154}
          top={leftTops[i]}
          width={1687}
          height={leftTops[i + 1] - leftTops[i]}
        />
      ))}
      {rightSpecs.map((s, i) => (
        <Panel
          key={rightTags[i]}
          tag={rightTags[i]}
          spec={s}
          peaks={rightPeaks}
          right={true}
          bottom={i === 3}
          left={1988}
          top={rightTops[i]}
          width={1687}
          height={rightTops[i + 1] - rightTops[i]}
        />
      ))}
      <div style={{ ...titleStyle, left: 154, width: 1687, top: 2777 }}>
        Wavenumber (cm<span style={sup}>-1</span>)
      </div>
      <div style={{ ...titleStyle, left: 1988, width: 1687, top: 2757 }}>
        Wavenumber (cm<span style={sup}>-1</span>)
      </div>
      <div
        style={{
          ...titleStyle,
          fontSize: 92,
          left: 58 - 400,
          top: 1359 - 46,
          width: 800,
          height: 92,
          transform: "rotate(-90deg)",
        }}
      >
        % Transmitance
      </div>
    </div>
  );
}
